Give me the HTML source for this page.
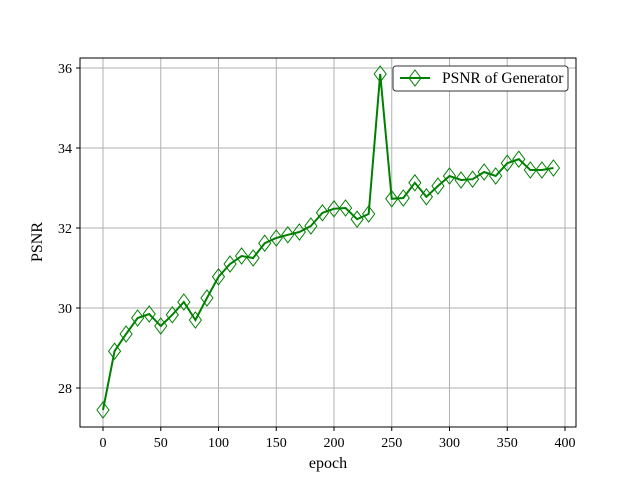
<!DOCTYPE html>
<html><head><meta charset="utf-8"><style>body{margin:0;background:#fff}svg{display:block;font-family:"Liberation Serif",serif}</style></head>
<body>
<svg id="chart" width="640" height="480">
<rect width="640" height="480" fill="#fff"/>
<g id="grid"></g>
<g id="xticks"></g>
<g id="yticks"></g>
<g id="series"></g>
<rect x="80" y="58" width="496" height="369" fill="none" stroke="#000" stroke-width="1"/>
<text x="328" y="468" text-anchor="middle" font-size="16">epoch</text>
<text x="42" y="242" text-anchor="middle" font-size="16" transform="rotate(-90 42 242)">PSNR</text>
<g>
<rect x="393" y="66" width="175" height="25" rx="3" fill="#fff" stroke="#333" stroke-width="1"/>
<line x1="400" y1="78" x2="430" y2="78" stroke="green" stroke-width="2"/>
<path d="M415 70 L421 78 L415 86 L409 78 Z" fill="none" stroke="green" stroke-width="1"/>
<text x="442" y="83" font-size="15.5">PSNR of Generator</text>
</g>
</svg>
<script>
const epochs=[0,10,20,30,40,50,60,70,80,90,100,110,120,130,140,150,160,170,180,190,200,210,220,230,240,250,260,270,280,290,300,310,320,330,340,350,360,370,380,390];
const psnr=[27.45,28.92,29.35,29.75,29.85,29.55,29.83,30.15,29.7,30.25,30.78,31.1,31.3,31.25,31.62,31.75,31.83,31.9,32.05,32.38,32.48,32.5,32.22,32.35,35.85,32.73,32.75,33.13,32.78,33.05,33.3,33.2,33.22,33.4,33.3,33.62,33.72,33.45,33.45,33.5];
const xTicks=[0,50,100,150,200,250,300,350,400];
const yTicks=[28,30,32,34,36];
const NS='http://www.w3.org/2000/svg';
const X=v=>103+v*1.155;
const Y=v=>388-(v-28)*40;
function mk(t,a,p){const e=document.createElementNS(NS,t);for(const k in a)e.setAttribute(k,a[k]);p.appendChild(e);return e;}
const g=document.getElementById('grid'),gx=document.getElementById('xticks'),gy=document.getElementById('yticks'),s=document.getElementById('series');
xTicks.forEach(v=>{
 const l=mk('line',{x1:X(v),x2:X(v),y1:58,y2:427,stroke:'#b0b0b0','stroke-width':1},g);
 
 
 mk('line',{x1:X(v),x2:X(v),y1:427,y2:431,stroke:'#000'},gx);
 const t=mk('text',{x:X(v),y:447,'text-anchor':'middle','font-size':14},gx);
 t.textContent=v;
 
 
});
yTicks.forEach(v=>{
 const l=mk('line',{x1:80,x2:576,y1:Y(v),y2:Y(v),stroke:'#b0b0b0','stroke-width':1},g);
 
 
 mk('line',{x1:76,x2:80,y1:Y(v),y2:Y(v),stroke:'#000'},gy);
 const t=mk('text',{x:72,y:Y(v)+5,'text-anchor':'end','font-size':14},gy);
 t.textContent=v;
 
 
});
const pl=mk('polyline',{points:epochs.map((e,i)=>X(e)+','+Y(psnr[i])).join(' '),fill:'none',stroke:'green','stroke-width':2},s);


epochs.forEach((e,i)=>{
 const x=X(e),y=Y(psnr[i]);
 const m=mk('path',{d:`M${x} ${y-8} L${x+6} ${y} L${x} ${y+8} L${x-6} ${y} Z`,fill:'none',stroke:'green','stroke-width':1},s);
 
 
});
</script>
</body></html>
